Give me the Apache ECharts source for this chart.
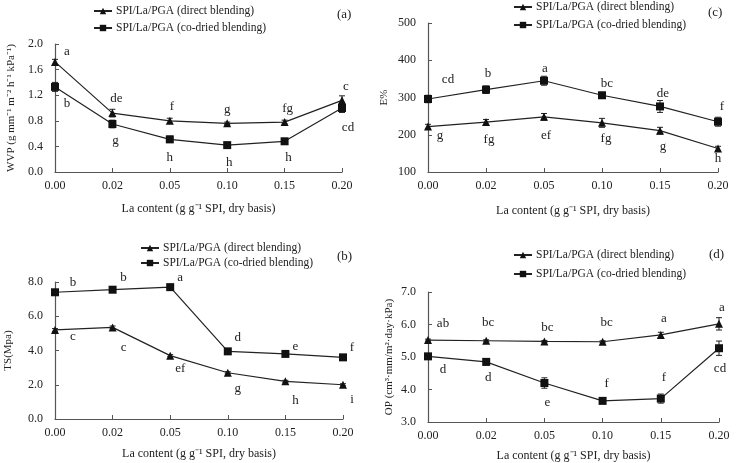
<!DOCTYPE html>
<html>
<head>
<meta charset="utf-8">
<script src="https://cdn.jsdelivr.net/npm/echarts@6/dist/echarts.min.js"></script>
<style>
html, body { margin: 0; padding: 0; background: #fff; }
#chart { width: 737px; height: 463px; }
</style>
</head>
<body>
<div id="chart"></div>
<script>
var laContent = ['0.00', '0.02', '0.05', '0.10', '0.15', '0.20'];
var nameDirect = 'SPI/La/PGA (direct blending)';
var nameCoDried = 'SPI/La/PGA (co-dried blending)';

// (a) WVP
var wvpDirect = [1.72, 0.92, 0.80, 0.76, 0.78, 1.12];
var wvpDirectErr = [0.04, 0.06, 0.04, 0.02, 0.03, 0.07];
var wvpDirectLet = ['a', 'de', 'f', 'g', 'fg', 'c'];
var wvpCo = [1.33, 0.75, 0.51, 0.42, 0.48, 1.00];
var wvpCoErr = [0.07, 0.06, 0.05, 0.02, 0.03, 0.07];
var wvpCoLet = ['b', 'g', 'h', 'h', 'h', 'cd'];

// (c) E%
var eDirect = [222, 234, 248, 232, 211, 163];
var eDirectErr = [6, 7, 9, 12, 9, 6];
var eDirectLet = ['g', 'fg', 'ef', 'fg', 'g', 'h'];
var eCo = [296, 321, 345, 306, 276, 235];
var eCoErr = [10, 10, 12, 5, 16, 12];
var eCoLet = ['cd', 'b', 'a', 'bc', 'de', 'f'];

// (b) TS
var tsDirect = [5.2, 5.35, 3.7, 2.7, 2.2, 2.0];
var tsDirectErr = [0.08, 0.08, 0.06, 0.06, 0.06, 0.06];
var tsDirectLet = ['c', 'c', 'ef', 'g', 'h', 'i'];
var tsCo = [7.4, 7.55, 7.7, 3.95, 3.8, 3.6];
var tsCoErr = [0.08, 0.08, 0.08, 0.08, 0.06, 0.06];
var tsCoLet = ['b', 'b', 'a', 'd', 'e', 'f'];

// (d) OP
var opDirect = [5.52, 5.50, 5.48, 5.47, 5.68, 6.02];
var opDirectErr = [0.03, 0.03, 0.03, 0.03, 0.08, 0.19];
var opDirectLet = ['ab', 'bc', 'bc', 'bc', 'a', 'a'];
var opCo = [5.02, 4.85, 4.20, 3.65, 3.72, 5.27];
var opCoErr = [0.05, 0.10, 0.16, 0.04, 0.14, 0.22];
var opCoLet = ['d', 'd', 'e', 'f', 'f', 'cd'];

var serif = 'Liberation Serif';
var ink = '#222';

var myChart = echarts.init(document.getElementById('chart'));

function xAxisOf(i, gap) {
    return {
        type: 'category',
        gridIndex: i,
        data: laContent,
        boundaryGap: false,
        name: 'La content (g g\u207B\u00B9 SPI, dry basis)',
        nameLocation: 'middle',
        nameGap: gap,
        nameTextStyle: { fontFamily: serif, fontSize: 12, color: ink },
        axisLine: { lineStyle: { color: '#555', width: 1.2 } },
        axisTick: { inside: true, length: 4, alignWithLabel: true, lineStyle: { color: '#555' } },
        axisLabel: { fontFamily: serif, fontSize: 12, color: ink, margin: 8 },
        splitLine: { show: false }
    };
}

function yAxisOf(i, min, max, step, digits, title, gap) {
    return {
        type: 'value',
        gridIndex: i,
        min: min,
        max: max,
        interval: step,
        name: title,
        nameLocation: 'middle',
        nameGap: gap,
        nameTextStyle: { fontFamily: serif, fontSize: 11, color: ink },
        axisLine: { show: true, lineStyle: { color: '#555', width: 1.2 } },
        axisTick: { show: true, inside: true, length: 4, lineStyle: { color: '#555' } },
        axisLabel: {
            fontFamily: serif, fontSize: 12, color: ink, margin: 12,
            formatter: function (v) { return v.toFixed(digits); }
        },
        splitLine: { show: false }
    };
}

// offsets: where each significance letter sits relative to its point centre
function lineOf(i, name, values, letters, symbol, size, offsets) {
    var half = size / 2;
    return {
        name: name,
        type: 'line',
        xAxisIndex: i,
        yAxisIndex: i,
        data: values.map(function (v, k) {
            return {
                value: v,
                label: { position: [half + offsets[k][0], half + offsets[k][1]] }
            };
        }),
        symbol: symbol,
        symbolSize: size,
        lineStyle: { color: ink, width: 1.2 },
        itemStyle: { color: '#111' },
        labelLayout: { hideOverlap: false },
        label: {
            show: true,
            align: 'center',
            verticalAlign: 'middle',
            fontFamily: serif,
            fontSize: 13,
            color: ink,
            formatter: function (p) { return letters[p.dataIndex]; }
        },
        z: 3
    };
}

function errorOf(i, values, errs) {
    var rows = values.map(function (v, k) { return [k, v - errs[k], v + errs[k]]; });
    return {
        type: 'custom',
        xAxisIndex: i,
        yAxisIndex: i,
        data: rows,
        silent: true,
        z: 2,
        renderItem: function (params, api) {
            var lo = api.coord([api.value(0), api.value(1)]);
            var hi = api.coord([api.value(0), api.value(2)]);
            var w = 3;
            var st = { stroke: ink, lineWidth: 1 };
            return {
                type: 'group',
                children: [
                    { type: 'line', shape: { x1: lo[0], y1: lo[1], x2: hi[0], y2: hi[1] }, style: st },
                    { type: 'line', shape: { x1: lo[0] - w, y1: lo[1], x2: lo[0] + w, y2: lo[1] }, style: st },
                    { type: 'line', shape: { x1: hi[0] - w, y1: hi[1], x2: hi[0] + w, y2: hi[1] }, style: st }
                ]
            };
        }
    };
}

function legendOf(left, top, gap) {
    return {
        orient: 'vertical',
        left: left,
        top: top,
        padding: 0,
        itemWidth: 18,
        itemHeight: 8,
        itemGap: gap,
        data: [nameDirect, nameCoDried],
        textStyle: { fontFamily: serif, fontSize: 11.5, color: ink, padding: [0, 0, 0, -1] },
        selectedMode: false
    };
}

function tagOf(text, left, top) {
    return { text: text, left: left, top: top, textStyle: { fontFamily: serif, fontSize: 13, fontWeight: 'normal', color: ink } };
}

function gridOf(left, top, width, height) {
    return { left: left, top: top, width: width, height: height, outerBoundsMode: 'none' };
}

var tri = 'triangle';
var sq = 'rect';

option = {
    animation: false,
    grid: [
        gridOf(55, 44, 287, 128),
        gridOf(428, 23, 290, 149),
        gridOf(55, 282, 288, 137),
        gridOf(428, 292, 291, 130)
    ],
    legend: [
        legendOf(93, 5, 5),
        legendOf(513, 1, 6),
        legendOf(140, 242, 3),
        legendOf(513, 249, 7)
    ],
    title: [
        tagOf('(a)', 332, 3),
        tagOf('(c)', 703, 1),
        tagOf('(b)', 332, 245),
        tagOf('(d)', 704, 243)
    ],
    xAxis: [xAxisOf(0, 31), xAxisOf(1, 33), xAxisOf(2, 29), xAxisOf(3, 28)],
    yAxis: [
        yAxisOf(0, 0, 2.0, 0.4, 1, 'WVP (g mm\u207B\u00B9 m\u207B\u00B2 h\u207B\u00B9 kPa\u207B\u00B9)', 38),
        yAxisOf(1, 100, 500, 100, 0, 'E%', 38),
        yAxisOf(2, 0, 8, 2, 1, 'TS(Mpa)', 41),
        yAxisOf(3, 3, 7, 1, 1, 'OP (cm\u00B3\u00B7mm/m\u00B2\u00B7day\u00B7kPa)', 33)
    ],
    series: [
        errorOf(0, wvpDirect, wvpDirectErr),
        errorOf(0, wvpCo, wvpCoErr),
        lineOf(0, nameDirect, wvpDirect, wvpDirectLet, tri, 8,
            [[12, -10], [4, -15], [2, -14], [0, -14], [3, -14], [4, -14]]),
        lineOf(0, nameCoDried, wvpCo, wvpCoLet, sq, 8,
            [[12, 17], [3, 17], [0, 18], [2, 17], [4, 16], [6, 20]]),

        errorOf(1, eDirect, eDirectErr),
        errorOf(1, eCo, eCoErr),
        lineOf(1, nameDirect, eDirect, eDirectLet, tri, 8,
            [[12, 9], [3, 17], [2, 19], [4, 16], [3, 16], [0, 10]]),
        lineOf(1, nameCoDried, eCo, eCoLet, sq, 8,
            [[20, -19], [2, -16], [1, -12], [5, -12], [3, -13], [4, -15]]),

        errorOf(2, tsDirect, tsDirectErr),
        errorOf(2, tsCo, tsCoErr),
        lineOf(2, nameDirect, tsDirect, tsDirectLet, tri, 8,
            [[18, 7], [11, 20], [10, 13], [10, 16], [10, 19], [9, 15]]),
        lineOf(2, nameCoDried, tsCo, tsCoLet, sq, 8,
            [[18, -10], [11, -12], [10, -10], [10, -14], [10, -7], [9, -10]]),

        errorOf(3, opDirect, opDirectErr),
        errorOf(3, opCo, opCoErr),
        lineOf(3, nameDirect, opDirect, opDirectLet, tri, 8,
            [[15, -17], [2, -18], [3, -14], [4, -19], [3, -16], [3, -16]]),
        lineOf(3, nameCoDried, opCo, opCoLet, sq, 8,
            [[15, 13], [2, 16], [3, 20], [4, -17], [3, -21], [1, 20]])
    ]
};

myChart.setOption(option);
</script>
</body>
</html>
